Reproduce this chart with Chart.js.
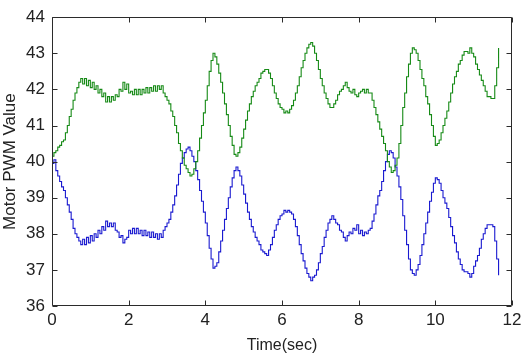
<!DOCTYPE html>
<html>
<head>
<meta charset="utf-8">
<script src="https://cdn.jsdelivr.net/npm/chart.js@4"></script>
<style>
  html, body { margin: 0; padding: 0; background: #fff; }
  canvas { display: block; }
</style>
</head>
<body>
<canvas id="chart" width="528" height="356"></canvas>
<script>
// sample period (sec) of the logged PWM values
const dt = 0.05;

// motor 1 (green), one value every 0.05 s from t = 0
const greenPwm = [
  40.15, 40.25, 40.3, 40.4, 40.45, 40.55, 40.6, 40.8, 41.0, 41.25,
  41.45, 41.7, 41.9, 42.05, 42.2, 42.3, 42.15, 42.3, 42.1, 42.25,
  42.05, 42.2, 42.0, 42.1, 41.9, 42.0, 41.8, 41.9, 41.65, 41.8,
  41.65, 41.8, 41.7, 41.85, 41.8, 42.0, 41.95, 42.2, 42.0, 42.15,
  41.9, 41.95, 41.85, 42.0, 41.85, 42.0, 41.85, 42.0, 41.9, 42.05,
  41.9, 42.05, 41.95, 42.1, 41.95, 42.1, 42.0, 42.1, 41.9, 41.8,
  41.7, 41.6, 41.4, 41.25, 41.0, 40.8, 40.5, 40.3, 40.1, 39.9,
  39.8, 39.7, 39.6, 39.65, 39.8, 40.0, 40.3, 40.65, 41.0, 41.35,
  41.7, 42.1, 42.5, 42.8, 43.0, 42.9, 42.7, 42.45, 42.2, 41.9,
  41.6, 41.3, 41.0, 40.7, 40.45, 40.2, 40.15, 40.25, 40.4, 40.65,
  40.9, 41.15, 41.4, 41.6, 41.8, 41.95, 42.1, 42.2, 42.3, 42.45,
  42.5, 42.55, 42.55, 42.45, 42.3, 42.1, 41.9, 41.75, 41.6, 41.5,
  41.45, 41.35, 41.4, 41.35, 41.45, 41.55, 41.7, 41.9, 42.1, 42.35,
  42.6, 42.8, 43.0, 43.15, 43.25, 43.3, 43.2, 43.0, 42.8, 42.55,
  42.3, 42.1, 41.9, 41.75, 41.6, 41.5, 41.5, 41.6, 41.7, 41.85,
  41.95, 42.0, 42.1, 42.2, 42.05, 41.95, 41.9, 42.0, 41.85, 41.8,
  41.9, 41.95, 42.0, 41.9, 42.0, 41.9, 41.9, 41.7, 41.5, 41.3,
  41.1, 40.9, 40.7, 40.5, 40.3, 40.0, 39.85, 39.7, 39.75, 39.9,
  40.1, 40.5, 41.0, 41.5, 41.9, 42.35, 42.7, 43.0, 43.15, 43.1,
  43.0, 42.8, 42.55, 42.3, 42.1, 41.8, 41.6, 41.3, 41.0, 40.7,
  40.45, 40.5, 40.6, 40.8, 41.0, 41.2, 41.4, 41.65, 41.9, 42.15,
  42.35, 42.5, 42.7, 42.8, 42.95, 43.05, 43.05, 43.0, 43.15, 43.0,
  42.9, 42.7, 42.55, 42.4, 42.25, 42.1, 41.95, 41.8, 41.8, 41.75,
  41.75, 42.1, 42.6, 43.15
];

// motor 2 (blue), same time base
const bluePwm = [
  39.95, 40.05, 39.75, 39.6, 39.45, 39.3, 39.2, 39.0, 38.8, 38.6,
  38.4, 38.15, 38.0, 37.9, 37.8, 37.7, 37.85, 37.7, 37.9, 37.75,
  37.95, 37.8, 38.0, 37.9, 38.1, 38.0, 38.2, 38.1, 38.35, 38.2,
  38.3, 38.2, 38.3, 38.1, 38.05, 37.9, 37.95, 37.75, 37.85, 37.9,
  38.1, 38.0, 38.15, 38.0, 38.15, 38.0, 38.1, 37.95, 38.1, 37.95,
  38.05, 37.9, 38.05, 37.9, 38.0, 37.85, 38.0, 37.9, 38.1, 38.2,
  38.3, 38.4, 38.6, 38.8, 39.05, 39.35, 39.65, 39.95, 40.1, 40.25,
  40.35, 40.4, 40.3, 40.15, 40.0, 39.75, 39.5, 39.2, 38.9, 38.6,
  38.3, 37.95, 37.6, 37.3, 37.05, 37.1, 37.2, 37.5, 37.8, 38.1,
  38.4, 38.7, 39.0, 39.3, 39.55, 39.75, 39.85, 39.75, 39.6, 39.35,
  39.1, 38.85, 38.6, 38.4, 38.2, 38.05, 37.9, 37.8, 37.7, 37.55,
  37.5, 37.45, 37.4, 37.55, 37.7, 37.9, 38.1, 38.25, 38.4, 38.5,
  38.55, 38.65, 38.6, 38.65, 38.6, 38.55, 38.4, 38.2, 37.95, 37.7,
  37.45, 37.25, 37.05, 36.9, 36.8, 36.7, 36.8, 36.85, 37.0, 37.2,
  37.45, 37.65, 37.9, 38.1, 38.3, 38.4, 38.5, 38.4, 38.3, 38.25,
  38.1, 38.05, 37.9, 37.8, 37.95, 38.05, 38.0, 38.15, 38.1, 38.25,
  38.0, 38.1, 37.95, 38.05, 38.0, 38.1, 38.15, 38.35, 38.55, 38.8,
  39.05, 39.2, 39.45, 39.75, 40.0, 40.2, 40.3, 40.25, 40.1, 39.85,
  39.6, 39.3, 38.95, 38.5, 38.1, 37.7, 37.3, 37.0, 36.9, 36.85,
  37.0, 37.15, 37.4, 37.7, 38.0, 38.3, 38.6, 38.9, 39.15, 39.4,
  39.55, 39.5, 39.4, 39.2, 39.0, 38.85, 38.7, 38.45, 38.2, 37.95,
  37.75, 37.5, 37.3, 37.15, 37.0, 36.95, 36.95, 36.9, 36.8, 36.9,
  37.1, 37.25, 37.4, 37.6, 37.85, 38.0, 38.15, 38.25, 38.25, 38.25,
  38.2, 37.8, 37.3, 36.85
];

const xTicks = [0, 2, 4, 6, 8, 10, 12];
const yTicks = [36, 37, 38, 39, 40, 41, 42, 43, 44];

const toPoints = vals => vals.map((v, i) => ({ x: +(i * dt).toFixed(2), y: v }));

// box around the plot with inward tick marks on all four sides
const frame = {
  id: 'frame',
  afterDraw(chart) {
    const { ctx, chartArea: a, scales: { x, y } } = chart;
    const L = Math.round(a.left) + 0.5, R = Math.round(a.right) - 0.5;
    const T = Math.round(a.top) + 0.5, B = Math.round(a.bottom) - 0.5;
    ctx.save();
    ctx.strokeStyle = '#2b2b2b';
    ctx.lineWidth = 1;
    ctx.beginPath();
    ctx.rect(L, T, R - L, B - T);
    xTicks.forEach(v => {
      const px = Math.round(x.getPixelForValue(v)) + 0.5;
      ctx.moveTo(px, B); ctx.lineTo(px, B - 5);
      ctx.moveTo(px, T); ctx.lineTo(px, T + 5);
    });
    yTicks.forEach(v => {
      const py = Math.round(y.getPixelForValue(v)) + 0.5;
      ctx.moveTo(L, py); ctx.lineTo(L + 5, py);
      ctx.moveTo(R, py); ctx.lineTo(R - 5, py);
    });
    ctx.stroke();
    ctx.restore();
  }
};

const family = '"Liberation Sans", Arial, sans-serif';
const tickFont = { family, size: 17 };

new Chart(document.getElementById('chart').getContext('2d'), {
  type: 'line',
  data: {
    datasets: [
      { label: 'Motor 1', data: toPoints(greenPwm), borderColor: '#168a16', borderWidth: 1.1, pointRadius: 0, stepped: true, fill: false },
      { label: 'Motor 2', data: toPoints(bluePwm), borderColor: '#1a1ad0', borderWidth: 1.1, pointRadius: 0, stepped: true, fill: false }
    ]
  },
  options: {
    responsive: false,
    animation: false,
    layout: { padding: { top: 10, right: 16, left: 0, bottom: 0 } },
    plugins: { legend: { display: false }, tooltip: { enabled: false } },
    scales: {
      x: {
        type: 'linear', min: 0, max: 12,
        afterBuildTicks: s => { s.ticks = xTicks.map(v => ({ value: v })); },
        afterFit: s => { s.height = 50; },
        grid: { display: false, drawTicks: false },
        border: { display: false },
        ticks: { font: tickFont, color: '#222', padding: 4, maxRotation: 0 },
        title: { display: true, text: 'Time(sec)', font: { family, size: 16 }, color: '#222', padding: { top: 0, bottom: 1 } }
      },
      y: {
        min: 36, max: 44,
        afterBuildTicks: s => { s.ticks = yTicks.map(v => ({ value: v })); },
        afterFit: s => { s.width = 52; },
        grid: { display: false, drawTicks: false },
        border: { display: false },
        ticks: { font: tickFont, color: '#222', padding: 7 },
        title: { display: true, text: 'Motor PWM Value', font: { family, size: 17 }, color: '#222', padding: { top: 0, bottom: 0 } }
      }
    }
  },
  plugins: [frame]
});
</script>
</body>
</html>
